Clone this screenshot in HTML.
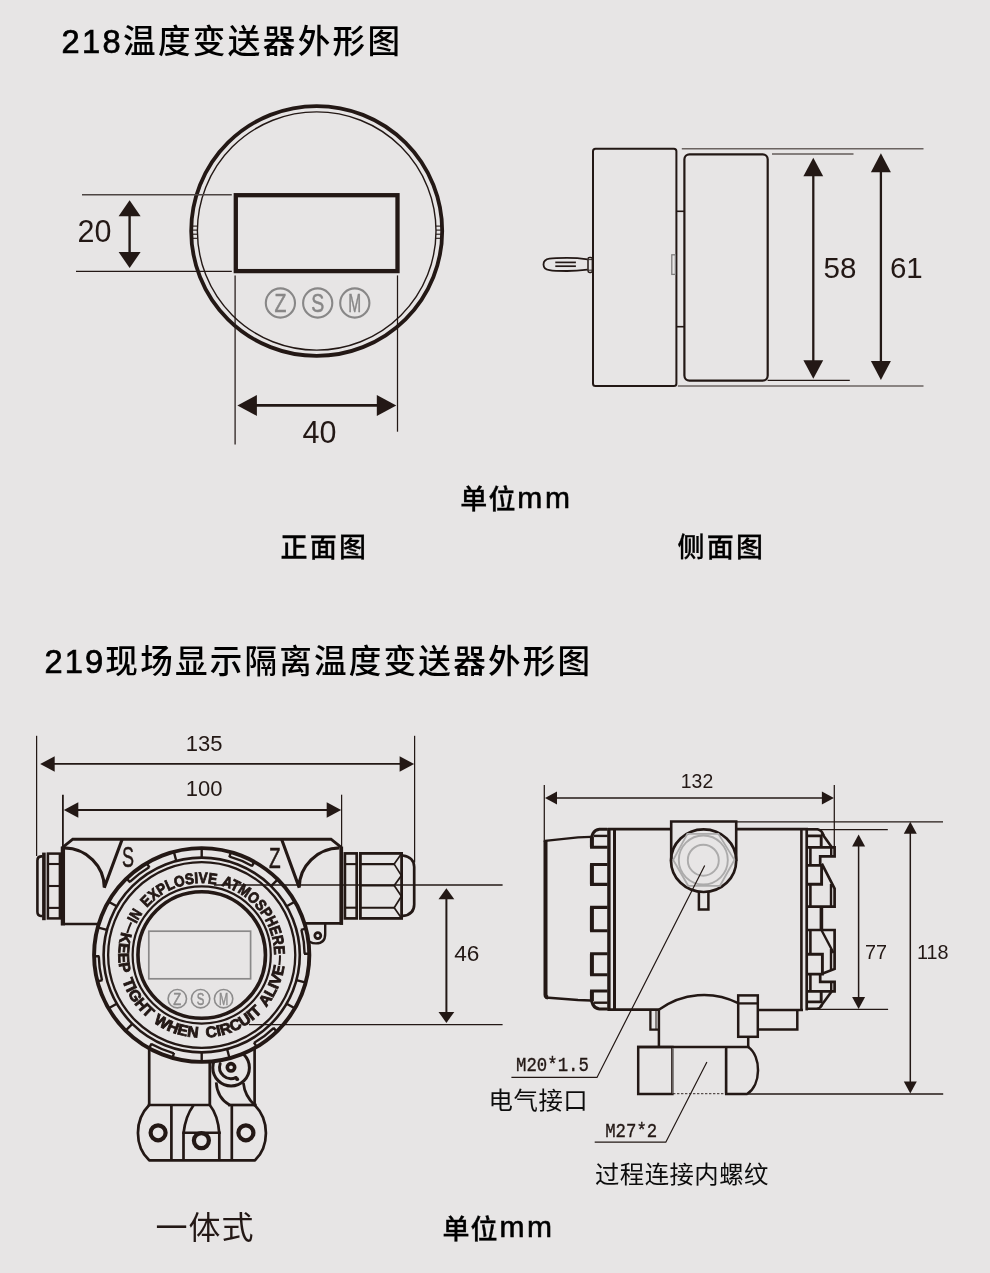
<!DOCTYPE html>
<html lang="zh-CN"><head><meta charset="utf-8"><title>218/219 温度变送器外形图</title>
<style>
html,body{margin:0;padding:0;background:#e7e5e5;}
body{width:990px;height:1273px;overflow:hidden;font-family:"Liberation Sans","Noto Sans CJK SC",sans-serif;}
svg{display:block;will-change:transform;}
svg text{font-family:"Liberation Sans","Noto Sans CJK SC",sans-serif;}
svg text.cjk{font-family:"Noto Sans CJK SC","Liberation Sans",sans-serif;}
svg text.mono{font-family:"Liberation Mono","DejaVu Sans Mono",monospace;}
</style></head><body>
<svg width="990" height="1273" viewBox="0 0 990 1273">
<rect x="0" y="0" width="990" height="1273" fill="#e7e5e5"/>
<text x="61.6" y="53" font-size="32.6" text-anchor="start" font-weight="500" fill="#000" letter-spacing="2.35"><tspan stroke="#000" stroke-width="0.7">218</tspan>温度变送器外形图</text>
<text x="44.4" y="673" font-size="32.6" text-anchor="start" font-weight="500" fill="#000" letter-spacing="2.2"><tspan stroke="#000" stroke-width="0.7">219</tspan>现场显示隔离温度变送器外形图</text>
<ellipse cx="316.7" cy="231.0" rx="125.5" ry="124.9" fill="none" stroke="#231815" stroke-width="3.8"/>
<ellipse cx="316.7" cy="231.0" rx="119.3" ry="119.1" fill="none" stroke="#231815" stroke-width="1.4"/>
<line x1="197.39999999999998" y1="226.1" x2="192.1" y2="226.1" stroke="#231815" stroke-width="1.1" />
<line x1="197.39999999999998" y1="230.1" x2="192.1" y2="230.1" stroke="#231815" stroke-width="1.1" />
<line x1="197.39999999999998" y1="234.2" x2="192.1" y2="234.2" stroke="#231815" stroke-width="1.1" />
<line x1="197.39999999999998" y1="238.3" x2="192.1" y2="238.3" stroke="#231815" stroke-width="1.1" />
<line x1="436.0" y1="226.1" x2="441.29999999999995" y2="226.1" stroke="#231815" stroke-width="1.1" />
<line x1="436.0" y1="230.1" x2="441.29999999999995" y2="230.1" stroke="#231815" stroke-width="1.1" />
<line x1="436.0" y1="234.2" x2="441.29999999999995" y2="234.2" stroke="#231815" stroke-width="1.1" />
<line x1="436.0" y1="238.3" x2="441.29999999999995" y2="238.3" stroke="#231815" stroke-width="1.1" />
<rect x="235.8" y="195.2" width="161.7" height="75.9" fill="none" stroke="#231815" stroke-width="4.3"/>
<circle cx="280.4" cy="303" r="14.6" fill="none" stroke="#888787" stroke-width="2.1"/>
<text transform="translate(280.4,311.8) scale(0.78,1)" font-size="25" text-anchor="middle" fill="#888787" stroke="#888787" stroke-width="0.5">Z</text>
<circle cx="317.7" cy="303" r="14.6" fill="none" stroke="#888787" stroke-width="2.1"/>
<text transform="translate(317.7,311.8) scale(0.78,1)" font-size="25" text-anchor="middle" fill="#888787" stroke="#888787" stroke-width="0.5">S</text>
<circle cx="354.8" cy="303" r="14.6" fill="none" stroke="#888787" stroke-width="2.1"/>
<text transform="translate(354.8,311.8) scale(0.62,1)" font-size="25" text-anchor="middle" fill="#888787" stroke="#888787" stroke-width="0.5">M</text>
<line x1="82" y1="194.8" x2="231.8" y2="194.8" stroke="#4d4543" stroke-width="1.5" />
<line x1="76" y1="271.4" x2="231.8" y2="271.4" stroke="#231815" stroke-width="1.25" />
<line x1="129.6" y1="215.3" x2="129.6" y2="253" stroke="#231815" stroke-width="2.4"/>
<polygon points="129.6,200.3 118.6,216.3 140.6,216.3" fill="#231815"/>
<polygon points="129.6,268 118.6,252 140.6,252" fill="#231815"/>
<text x="94.5" y="242" font-size="30.5" text-anchor="middle" font-weight="400" fill="#231815" >20</text>
<line x1="235.1" y1="275.6" x2="235.1" y2="444.4" stroke="#231815" stroke-width="1.25" />
<line x1="397.5" y1="275.4" x2="397.5" y2="431.7" stroke="#231815" stroke-width="1.25" />
<line x1="255.89999999999998" y1="405.4" x2="377.8" y2="405.4" stroke="#231815" stroke-width="2.8"/>
<polygon points="237.4,405.4 256.9,394.9 256.9,415.9" fill="#231815"/>
<polygon points="396.3,405.4 376.8,394.9 376.8,415.9" fill="#231815"/>
<text x="319.5" y="443" font-size="30.5" text-anchor="middle" font-weight="400" fill="#231815" >40</text>
<text x="460.2" y="509.4" font-size="27" font-weight="500" fill="#000" stroke="#000" stroke-width="0.3" letter-spacing="1.2">单位<tspan font-size="30" letter-spacing="2.7" dx="0.6" dy="-1.6" stroke="#000" stroke-width="0.6">mm</tspan></text>
<text x="280.6" y="557.4" font-size="27" text-anchor="start" font-weight="500" fill="#000" letter-spacing="2.2" stroke="#000" stroke-width="0.3">正面图</text>
<text x="677.6" y="557.4" font-size="27" text-anchor="start" font-weight="500" fill="#000" letter-spacing="2.2" stroke="#000" stroke-width="0.3">侧面图</text>
<rect x="593" y="148.7" width="83.4" height="237.3" rx="2.5" fill="none" stroke="#231815" stroke-width="2"/>
<rect x="684.4" y="154.3" width="83.3" height="226.3" rx="5" fill="none" stroke="#231815" stroke-width="2.2"/>
<line x1="676.4" y1="211.3" x2="684.4" y2="211.3" stroke="#231815" stroke-width="1.6" />
<line x1="676.4" y1="326.7" x2="684.4" y2="326.7" stroke="#231815" stroke-width="1.6" />
<rect x="671.8" y="254.8" width="3.6" height="19.6" fill="none" stroke="#807f7f" stroke-width="1.3"/>
<path d="M587.6,259.3 C578,258 572,257.9 567,257.9 C560,257.9 553,258.1 549.5,258.7 C541.5,260 541.5,268.8 549.5,270.1 C553,270.8 560,271 567,271 C572,271 578,270.8 587.6,269.6" fill="none" stroke="#231815" stroke-width="1.8"/>
<rect x="588" y="257.4" width="4.4" height="15" rx="1.6" fill="none" stroke="#231815" stroke-width="1.5"/>
<line x1="588.4" y1="259.6" x2="592" y2="259.6" stroke="#231815" stroke-width="0.9" />
<line x1="588.4" y1="270.2" x2="592" y2="270.2" stroke="#231815" stroke-width="0.9" />
<line x1="555.3" y1="262.4" x2="575.9" y2="262.4" stroke="#231815" stroke-width="1.7" />
<line x1="555.3" y1="266.2" x2="575.9" y2="266.2" stroke="#231815" stroke-width="1.7" />
<line x1="681.8" y1="148.7" x2="923.5" y2="148.7" stroke="#6b6360" stroke-width="1.5" />
<line x1="677.8" y1="386" x2="923.5" y2="386" stroke="#6b6360" stroke-width="1.5" />
<line x1="772" y1="154" x2="853.5" y2="154" stroke="#231815" stroke-width="1.1" />
<line x1="767.6" y1="380.4" x2="849.8" y2="380.4" stroke="#231815" stroke-width="1.1" />
<line x1="813.3" y1="175.2" x2="813.3" y2="361.2" stroke="#231815" stroke-width="2.3"/>
<polygon points="813.3,157.7 803.4,176.2 823.1999999999999,176.2" fill="#231815"/>
<polygon points="813.3,378.7 803.4,360.2 823.1999999999999,360.2" fill="#231815"/>
<line x1="880.9" y1="171.2" x2="880.9" y2="362" stroke="#231815" stroke-width="2.3"/>
<polygon points="880.9,153.2 870.9,172.2 890.9,172.2" fill="#231815"/>
<polygon points="880.9,380 870.9,361 890.9,361" fill="#231815"/>
<text x="840" y="277.8" font-size="29.5" text-anchor="middle" font-weight="400" fill="#231815" >58</text>
<text x="906.3" y="277.8" font-size="29.5" text-anchor="middle" font-weight="400" fill="#231815" >61</text>
<line x1="36.6" y1="735.8" x2="36.6" y2="856" stroke="#231815" stroke-width="1.25" />
<line x1="414.6" y1="735.8" x2="414.6" y2="862.5" stroke="#231815" stroke-width="1.25" />
<line x1="53.7" y1="763.9" x2="400.6" y2="763.9" stroke="#231815" stroke-width="1.9"/>
<polygon points="40.2,763.9 54.7,756.15 54.7,771.65" fill="#231815"/>
<polygon points="414.1,763.9 399.6,756.15 399.6,771.65" fill="#231815"/>
<text x="204.1" y="751.2" font-size="22" text-anchor="middle" font-weight="400" fill="#231815" >135</text>
<line x1="62.9" y1="794.7" x2="62.9" y2="846" stroke="#231815" stroke-width="1.8" />
<line x1="341.6" y1="794.7" x2="341.6" y2="846" stroke="#231815" stroke-width="1.25" />
<line x1="77.3" y1="810" x2="327.7" y2="810" stroke="#231815" stroke-width="1.9"/>
<polygon points="63.8,810 78.3,802.25 78.3,817.75" fill="#231815"/>
<polygon points="341.2,810 326.7,802.25 326.7,817.75" fill="#231815"/>
<text x="204.1" y="796.3" font-size="22" text-anchor="middle" font-weight="400" fill="#231815" >100</text>
<path d="M62.9,924.2 L62.9,847.2 L72.8,839.2 L331,839.2 L341,847.2 L341,923.6" fill="none" stroke="#231815" stroke-width="2.9" stroke-linejoin="miter"/>
<line x1="62.9" y1="846.6" x2="62.9" y2="925.4" stroke="#231815" stroke-width="4.3" />
<line x1="341.4" y1="846.6" x2="341.4" y2="924.8" stroke="#231815" stroke-width="3.4" />
<line x1="61" y1="924" x2="100" y2="924" stroke="#231815" stroke-width="2.6" />
<line x1="300" y1="923.4" x2="343" y2="923.4" stroke="#231815" stroke-width="2.6" />
<path d="M64.5,847.9 C86.5,848.3 104.3,866 104.3,887.6 L122.2,839.2" fill="none" stroke="#231815" stroke-width="3.1" stroke-linejoin="miter"/>
<path d="M339.4,847.9 C317.4,848.3 299.2,866 299.2,887.6 L281.6,839.2" fill="none" stroke="#231815" stroke-width="3.1" stroke-linejoin="miter"/>
<text transform="translate(128.1,867.2) scale(0.6,1)" font-size="30" text-anchor="middle" fill="#231815" stroke="#231815" stroke-width="0.5">S</text>
<text transform="translate(274.7,867.7) scale(0.635,1)" font-size="30" text-anchor="middle" fill="#231815" stroke="#231815" stroke-width="0.5">Z</text>
<path d="M42.6,856.4 L41,856.4 Q37.4,856.6 37.4,860.5 L37.4,911.8 Q37.4,915.8 41,916 L42.6,916" fill="none" stroke="#231815" stroke-width="2.6"/>
<line x1="43.9" y1="852.6" x2="43.9" y2="920.2" stroke="#231815" stroke-width="3.6" />
<rect x="47.9" y="853.6" width="12" height="64.8" fill="none" stroke="#231815" stroke-width="2.5"/>
<line x1="47.9" y1="864" x2="60" y2="864" stroke="#231815" stroke-width="2.1" />
<line x1="47.9" y1="886" x2="60" y2="886" stroke="#231815" stroke-width="2.1" />
<line x1="47.9" y1="907.9" x2="60" y2="907.9" stroke="#231815" stroke-width="2.1" />
<rect x="344.9" y="853.4" width="11.8" height="65" fill="none" stroke="#231815" stroke-width="2.7"/>
<line x1="344.9" y1="864.1" x2="356.7" y2="864.1" stroke="#231815" stroke-width="2.1" />
<line x1="344.9" y1="907.7" x2="356.7" y2="907.7" stroke="#231815" stroke-width="2.1" />
<rect x="360.4" y="853.4" width="41.2" height="65" fill="none" stroke="#231815" stroke-width="2.8"/>
<line x1="360.4" y1="864.1" x2="394.4" y2="864.1" stroke="#231815" stroke-width="2.1" />
<line x1="360.4" y1="885.5" x2="394.4" y2="885.5" stroke="#231815" stroke-width="2.1" />
<line x1="360.4" y1="907.7" x2="394.4" y2="907.7" stroke="#231815" stroke-width="2.1" />
<path d="M401.4,853.8 L394.2,864.1 L401.4,875.6 L394.2,885.5 L401.4,896.2 L394.2,907.7 L401.4,918" fill="none" stroke="#231815" stroke-width="1.7" stroke-linejoin="miter"/>
<path d="M402.8,855.5 C409.5,856.5 414.2,860 414.2,867 L414.2,904.4 C414.2,911.4 409.5,915 402.8,915.9" fill="none" stroke="#231815" stroke-width="2.7"/>
<line x1="149.2" y1="1040" x2="149.2" y2="1105" stroke="#231815" stroke-width="2.7" />
<line x1="254.6" y1="1040" x2="254.6" y2="1105" stroke="#231815" stroke-width="2.7" />
<path d="M325.2,923.4 L325.2,934 Q325.2,943.4 316,943.4 Q309,943.4 306.5,938" fill="none" stroke="#231815" stroke-width="2.4"/>
<circle cx="317.8" cy="935.6" r="3" fill="none" stroke="#231815" stroke-width="2.7"/>
<circle cx="231.1" cy="1067.7" r="18.3" fill="none" stroke="#231815" stroke-width="3"/>
<g transform="translate(201.7,955.0) scale(1.004,0.9965) translate(-201.7,-955.0)">
<circle cx="201.7" cy="955.0" r="107.3" fill="#e7e5e5" stroke="none"/>
</g>
<line x1="214" y1="885" x2="502.6" y2="885" stroke="#231815" stroke-width="1.3" />
<line x1="249" y1="1024.6" x2="502.6" y2="1024.6" stroke="#231815" stroke-width="1.3" />
<g transform="translate(201.7,955.0) scale(1.004,0.9965) translate(-201.7,-955.0)">
<circle cx="201.7" cy="955.0" r="107.2" fill="none" stroke="#231815" stroke-width="3.9"/>
<circle cx="201.7" cy="955.0" r="97.7" fill="none" stroke="#231815" stroke-width="2.6"/>
<circle cx="201.7" cy="955.0" r="93.2" fill="none" stroke="#231815" stroke-width="2.3"/>
<circle cx="201.7" cy="955.0" r="68.8" fill="none" stroke="#231815" stroke-width="2.2"/>
<circle cx="201.7" cy="955.0" r="63.5" fill="none" stroke="#231815" stroke-width="3.6"/>
<line x1="296.07" y1="980.29" x2="304.57" y2="982.56" stroke="#231815" stroke-width="2.4" />
<line x1="286.31" y1="1003.85" x2="293.93" y2="1008.25" stroke="#231815" stroke-width="2.4" />
<line x1="226.99" y1="1049.37" x2="229.26" y2="1057.87" stroke="#231815" stroke-width="2.4" />
<line x1="201.70" y1="1052.70" x2="201.70" y2="1061.50" stroke="#231815" stroke-width="2.4" />
<line x1="132.62" y1="1024.08" x2="126.39" y2="1030.31" stroke="#231815" stroke-width="2.4" />
<line x1="117.09" y1="1003.85" x2="109.47" y2="1008.25" stroke="#231815" stroke-width="2.4" />
<line x1="107.33" y1="929.71" x2="98.83" y2="927.44" stroke="#231815" stroke-width="2.4" />
<line x1="117.09" y1="906.15" x2="109.47" y2="901.75" stroke="#231815" stroke-width="2.4" />
<line x1="176.41" y1="860.63" x2="174.14" y2="852.13" stroke="#231815" stroke-width="2.4" />
<line x1="201.70" y1="857.30" x2="201.70" y2="848.50" stroke="#231815" stroke-width="2.4" />
<line x1="270.78" y1="885.92" x2="277.01" y2="879.69" stroke="#231815" stroke-width="2.4" />
<line x1="286.31" y1="906.15" x2="293.93" y2="901.75" stroke="#231815" stroke-width="2.4" />
<path d="M304.42,928.82 L300.44,929.83 M301.02,929.68 A102.5,102.5 0 0 1 304.19,953.75 M303.59,953.76 L307.69,953.70" fill="none" stroke="#231815" stroke-width="2.4"/>
<path d="M275.73,1030.86 L272.87,1027.93 M273.29,1028.36 A102.5,102.5 0 0 1 254.03,1043.13 M253.72,1042.62 L255.82,1046.14" fill="none" stroke="#231815" stroke-width="2.4"/>
<path d="M173.02,1057.05 L174.13,1053.10 M173.96,1053.68 A102.5,102.5 0 0 1 151.54,1044.39 M151.83,1043.86 L149.83,1047.44" fill="none" stroke="#231815" stroke-width="2.4"/>
<path d="M98.98,981.18 L102.96,980.17 M102.38,980.32 A102.5,102.5 0 0 1 99.21,956.25 M99.81,956.24 L95.71,956.30" fill="none" stroke="#231815" stroke-width="2.4"/>
<path d="M127.67,879.14 L130.53,882.07 M130.11,881.64 A102.5,102.5 0 0 1 149.37,866.87 M149.68,867.38 L147.58,863.86" fill="none" stroke="#231815" stroke-width="2.4"/>
<path d="M230.38,852.95 L229.27,856.90 M229.44,856.32 A102.5,102.5 0 0 1 251.86,865.61 M251.57,866.14 L253.57,862.56" fill="none" stroke="#231815" stroke-width="2.4"/>
<path id="rt0" d="M136.59,923.80 A72.2,72.2 0 0 1 146.15,908.88" fill="none"/>
<path id="rt1" d="M147.21,907.63 A72.2,72.2 0 0 1 221.24,885.49" fill="none"/>
<path id="rt2" d="M221.12,885.46 A72.2,72.2 0 0 1 273.75,959.66" fill="none"/>
<text font-size="15.3" font-weight="700" fill="#231815" stroke="#231815" stroke-width="0.85"><textPath href="#rt0" textLength="12.7" lengthAdjust="spacingAndGlyphs">IN</textPath> <textPath href="#rt1" textLength="76.5" lengthAdjust="spacingAndGlyphs">EXPLOSIVE</textPath> <textPath href="#rt2" textLength="93.4" lengthAdjust="spacingAndGlyphs">ATMOSPHERE</textPath></text>
<path id="rb0" d="M122.00,931.84 A83.0,83.0 0 0 0 122.20,978.85" fill="none"/>
<path id="rb1" d="M122.76,980.65 A83.0,83.0 0 0 0 153.03,1022.23" fill="none"/>
<path id="rb2" d="M153.50,1022.57 A83.0,83.0 0 0 0 203.87,1037.97" fill="none"/>
<path id="rb3" d="M206.33,1037.87 A83.0,83.0 0 0 0 265.84,1007.68" fill="none"/>
<path id="rb4" d="M265.93,1007.57 A83.0,83.0 0 0 0 284.52,960.50" fill="none"/>
<text font-size="15.3" font-weight="700" fill="#231815" stroke="#231815" stroke-width="0.85"><textPath href="#rb0" textLength="41.9" lengthAdjust="spacingAndGlyphs">KEEP</textPath> <textPath href="#rb1" textLength="46.5" lengthAdjust="spacingAndGlyphs">TIGHT</textPath> <textPath href="#rb2" textLength="47.8" lengthAdjust="spacingAndGlyphs">WHEN</textPath> <textPath href="#rb3" textLength="62.9" lengthAdjust="spacingAndGlyphs">CIRCUIT</textPath> <textPath href="#rb4" textLength="45.6" lengthAdjust="spacingAndGlyphs">ALIVE</textPath></text>
<path d="M127.53,932.89 A77.4,77.4 0 0 1 131.55,922.29" fill="none" stroke="#231815" stroke-width="2"/>
<path d="M279.70,955.27 A78,78 0 0 1 279.05,965.05" fill="none" stroke="#231815" stroke-width="2"/>
</g>
<rect x="148.8" y="931.2" width="101.8" height="47.6" fill="none" stroke="#8a8989" stroke-width="1.7"/>
<circle cx="177.3" cy="998.7" r="9.2" fill="none" stroke="#8d8c8c" stroke-width="1.6"/>
<text transform="translate(177.3,1004.9) scale(0.75,1)" font-size="17.4" text-anchor="middle" fill="#8d8c8c" stroke="#8d8c8c" stroke-width="0.5">Z</text>
<circle cx="200.6" cy="998.7" r="9.2" fill="none" stroke="#8d8c8c" stroke-width="1.6"/>
<text transform="translate(200.6,1004.9) scale(0.66,1)" font-size="17.4" text-anchor="middle" fill="#8d8c8c" stroke="#8d8c8c" stroke-width="0.5">S</text>
<circle cx="223.6" cy="998.7" r="9.2" fill="none" stroke="#8d8c8c" stroke-width="1.6"/>
<text transform="translate(223.6,1004.9) scale(0.64,1)" font-size="17.4" text-anchor="middle" fill="#8d8c8c" stroke="#8d8c8c" stroke-width="0.5">M</text>
<line x1="147.8" y1="1105" x2="211" y2="1105" stroke="#231815" stroke-width="2.7" />
<line x1="228" y1="1105" x2="256.7" y2="1105" stroke="#231815" stroke-width="2.7" />
<line x1="209.8" y1="1060" x2="209.8" y2="1105" stroke="#231815" stroke-width="2.8" />
<path d="M149.2,1105 C134.2,1120 134.2,1146 149.2,1160.3 L255,1160.3 C269.6,1146 269.6,1120 254.6,1105" fill="none" stroke="#231815" stroke-width="2.7" stroke-linejoin="round"/>
<line x1="171.4" y1="1105" x2="171.4" y2="1160.3" stroke="#231815" stroke-width="2.7" />
<line x1="231.8" y1="1105" x2="231.8" y2="1160.3" stroke="#231815" stroke-width="2.7" />
<line x1="183.5" y1="1132.8" x2="183.5" y2="1160.3" stroke="#231815" stroke-width="2.7" />
<line x1="219.3" y1="1132.8" x2="219.3" y2="1160.3" stroke="#231815" stroke-width="2.7" />
<line x1="182.4" y1="1132.8" x2="220.8" y2="1132.8" stroke="#231815" stroke-width="2.4" />
<path d="M183.5,1133.4 C184.8,1121 188.5,1112 193.7,1105" fill="none" stroke="#231815" stroke-width="2.7"/>
<path d="M219.3,1133.4 C218.4,1121 215,1111.5 209.8,1105" fill="none" stroke="#231815" stroke-width="2.7"/>
<circle cx="158.1" cy="1132.8" r="7.5" fill="none" stroke="#231815" stroke-width="4.2"/>
<circle cx="201.4" cy="1140.6" r="7.5" fill="none" stroke="#231815" stroke-width="4.2"/>
<circle cx="245.9" cy="1132.8" r="7.5" fill="none" stroke="#231815" stroke-width="4.2"/>
<circle cx="231" cy="1067.3" r="3.7" fill="none" stroke="#231815" stroke-width="3.6"/>
<path d="M220.2,1063.6 A11.4,11.4 0 0 0 236.2,1077.4" fill="none" stroke="#231815" stroke-width="2.9" stroke-linecap="round"/>
<circle cx="237.2" cy="1079.2" r="1.9" fill="#231815"/>
<path d="M216.2,1082.4 C217,1094 222,1101 230,1105.2" fill="none" stroke="#231815" stroke-width="2.7"/>
<path d="M243.4,1083 C244.5,1094 249,1100 255,1105.4" fill="none" stroke="#231815" stroke-width="2.7"/>
<line x1="446.4" y1="898.3" x2="446.4" y2="1012.9" stroke="#231815" stroke-width="2"/>
<polygon points="446.4,888.3 438.5,899.3 454.29999999999995,899.3" fill="#231815"/>
<polygon points="446.4,1022.9 438.5,1011.9 454.29999999999995,1011.9" fill="#231815"/>
<text x="466.8" y="960.6" font-size="22.6" text-anchor="middle" font-weight="400" fill="#231815" >46</text>
<text x="155.6" y="1239.4" font-size="32" text-anchor="start" font-weight="400" fill="#231815" letter-spacing="0.9">一体式</text>
<text x="442.4" y="1238.6" font-size="27" font-weight="500" fill="#000" stroke="#000" stroke-width="0.3" letter-spacing="1.2">单位<tspan font-size="30" letter-spacing="2.7" dx="0.6" dy="-1.6" stroke="#000" stroke-width="0.6">mm</tspan></text>
<line x1="544.3" y1="785" x2="544.3" y2="842" stroke="#231815" stroke-width="1.25" />
<line x1="834.3" y1="785" x2="834.3" y2="847" stroke="#231815" stroke-width="1.25" />
<line x1="556" y1="798" x2="822.9" y2="798" stroke="#231815" stroke-width="1.7"/>
<polygon points="545,798 557,791.5 557,804.5" fill="#231815"/>
<polygon points="833.9,798 821.9,791.5 821.9,804.5" fill="#231815"/>
<text x="697" y="788" font-size="19.4" text-anchor="middle" font-weight="400" fill="#231815" >132</text>
<path d="M590.8,836.9 L578,837.4 L545,840.8" fill="none" stroke="#231815" stroke-width="2.3" />
<path d="M545.6,997.4 L578,1000 L590.8,1000.6" fill="none" stroke="#231815" stroke-width="2.5" />
<path d="M545.5,840.4 L545.5,994.6 Q545.6,997.2 548,997.5" fill="none" stroke="#231815" stroke-width="4" stroke-linejoin="round"/>
<path d="M607.6,829.2 L599.4,829.2 Q595,829.6 593,833.4 L591.6,837 L591.6,847.3 L607.6,847.3" fill="none" stroke="#231815" stroke-width="3.1" />
<line x1="594" y1="835.9" x2="607.6" y2="835.9" stroke="#231815" stroke-width="2.4" />
<path d="M607.6,864.5 L591.6,864.5 L591.6,884.4 L607.6,884.4" fill="none" stroke="#231815" stroke-width="3.1" />
<path d="M607.6,907.4 L591.6,907.4 L591.6,930.8 L607.6,930.8" fill="none" stroke="#231815" stroke-width="3.1" />
<path d="M607.6,953.8 L591.6,953.8 L591.6,974.8 L607.6,974.8" fill="none" stroke="#231815" stroke-width="3.1" />
<path d="M607.6,991 L591.6,991 L591.6,1001 L593,1004.8 Q595,1008.6 599.4,1009 L607.6,1009" fill="none" stroke="#231815" stroke-width="3.1" />
<line x1="594" y1="1002.7" x2="607.6" y2="1002.7" stroke="#231815" stroke-width="2.4" />
<line x1="591.9" y1="836.4" x2="591.9" y2="847.3" stroke="#231815" stroke-width="4" />
<line x1="591.9" y1="864.5" x2="591.9" y2="884.4" stroke="#231815" stroke-width="4" />
<line x1="591.9" y1="907.4" x2="591.9" y2="930.8" stroke="#231815" stroke-width="4" />
<line x1="591.9" y1="953.8" x2="591.9" y2="974.8" stroke="#231815" stroke-width="4" />
<line x1="591.9" y1="991" x2="591.9" y2="1001" stroke="#231815" stroke-width="4" />
<line x1="608.9" y1="828" x2="608.9" y2="1010.6" stroke="#231815" stroke-width="3.4" />
<line x1="614.5" y1="828" x2="614.5" y2="1010.6" stroke="#231815" stroke-width="3" />
<line x1="608" y1="829.2" x2="670.3" y2="829.2" stroke="#231815" stroke-width="2.7" />
<line x1="736.5" y1="829.2" x2="808" y2="829.2" stroke="#231815" stroke-width="2.7" />
<line x1="607.6" y1="1009.6" x2="659.6" y2="1009.6" stroke="#231815" stroke-width="2.7" />
<path d="M671.2,861 L671.2,821.5 L736.2,821.5 L736.2,861" fill="none" stroke="#231815" stroke-width="2.6" />
<ellipse cx="703.6" cy="860.7" rx="32.6" ry="31.3" fill="none" stroke="#231815" stroke-width="2.7"/>
<path d="M673.2,859.9 L687.4,833.9 L718.4,833.9 L734.4,859.9 L720,885.8 L688.2,885.8 Z" fill="none" stroke="#acabab" stroke-width="1.8" />
<circle cx="703.3" cy="860" r="24.5" fill="none" stroke="#acabab" stroke-width="1.9"/>
<circle cx="703.3" cy="860.2" r="15.5" fill="none" stroke="#acabab" stroke-width="1.9"/>
<path d="M698.9,892 L698.9,909.6 L708.4,909.6 L708.4,892" fill="none" stroke="#231815" stroke-width="2.5" />
<line x1="801.4" y1="828.6" x2="801.4" y2="1011" stroke="#231815" stroke-width="2.6" />
<line x1="806.7" y1="828.6" x2="806.7" y2="1010.4" stroke="#231815" stroke-width="2.7" />
<path d="M806.6,829.2 L817.6,829.2 Q822,830.2 823.6,835.4" fill="none" stroke="#231815" stroke-width="2.6" />
<path d="M821.6,833 L831.6,847.1" fill="none" stroke="#231815" stroke-width="2.6" />
<path d="M808,835.9 L821.2,835.9 L821.2,846.6" fill="none" stroke="#231815" stroke-width="2.9" />
<path d="M808,847.3 L834.6,847.3 L834.6,856.3 L820.2,856.3 L820.2,865.3 L808,865.3" fill="none" stroke="#231815" stroke-width="2.6999999999999997" />
<path d="M831.2,847.1 L831.2,856.3" fill="none" stroke="#231815" stroke-width="2.4" />
<path d="M808,884.2 L821.6,884.2 L821.6,864" fill="none" stroke="#231815" stroke-width="2.9" />
<path d="M821.8,863.6 L834.6,888.6 L834.6,906.7 L808,906.7" fill="none" stroke="#231815" stroke-width="2.6999999999999997" />
<path d="M831,884 L831,906.7" fill="none" stroke="#231815" stroke-width="2.4" />
<line x1="821.4" y1="906.7" x2="821.4" y2="930" stroke="#231815" stroke-width="3.6" />
<path d="M808,930 L834.6,930 L834.6,968.9 L822.7,973.4" fill="none" stroke="#231815" stroke-width="2.6999999999999997" />
<path d="M821.8,930.8 L833.6,953" fill="none" stroke="#231815" stroke-width="2.4" />
<path d="M831,949 L831,970" fill="none" stroke="#231815" stroke-width="2.4" />
<path d="M808,954.2 L822.4,954.2 L822.4,974.1 L808,974.1" fill="none" stroke="#231815" stroke-width="2.9" />
<path d="M820.2,974.1 L820.2,981.9 L834.6,981.9 L834.6,991.4 L808,991.4" fill="none" stroke="#231815" stroke-width="2.6999999999999997" />
<path d="M831.2,981.9 L831.2,991.4" fill="none" stroke="#231815" stroke-width="2.4" />
<path d="M831.6,991.4 L820.4,1006.8" fill="none" stroke="#231815" stroke-width="2.6" />
<path d="M808,1001.9 L821.2,1001.9 L821.2,992" fill="none" stroke="#231815" stroke-width="2.9" />
<path d="M806.6,1008.8 L816.6,1008.8 Q820.2,1008.4 822,1005" fill="none" stroke="#231815" stroke-width="2.6" />
<line x1="810.4" y1="847.3" x2="810.4" y2="865.3" stroke="#231815" stroke-width="2.6" />
<line x1="810.4" y1="884.2" x2="810.4" y2="906.7" stroke="#231815" stroke-width="2.6" />
<line x1="810.4" y1="930" x2="810.4" y2="954.2" stroke="#231815" stroke-width="2.6" />
<line x1="810.4" y1="974.1" x2="810.4" y2="991.4" stroke="#231815" stroke-width="2.6" />
<path d="M659.2,1029.6 L650.4,1029.6 L650.4,1009.7" fill="none" stroke="#231815" stroke-width="2.3" />
<line x1="656" y1="1010" x2="656" y2="1029" stroke="#231815" stroke-width="1" />
<line x1="658.9" y1="1009.7" x2="658.9" y2="1047" stroke="#231815" stroke-width="2.5" />
<path d="M659.2,1009.6 A75.8,75.8 0 0 1 738.2,1003.2" fill="none" stroke="#231815" stroke-width="2.5" />
<rect x="738.2" y="995.4" width="19.6" height="41.4" fill="none" stroke="#231815" stroke-width="2.5"/>
<line x1="738.2" y1="1003.4" x2="757.8" y2="1003.4" stroke="#231815" stroke-width="2.3" />
<path d="M757.8,1009.9 L803,1009.9" fill="none" stroke="#231815" stroke-width="2.5" />
<path d="M757.8,1029.6 L797.3,1029.6 L797.3,1009.9" fill="none" stroke="#231815" stroke-width="2.5" />
<line x1="748.2" y1="1036.8" x2="748.2" y2="1047.4" stroke="#231815" stroke-width="2.5" />
<line x1="637" y1="1047" x2="749.3" y2="1047" stroke="#231815" stroke-width="2.5" />
<rect x="638.2" y="1047" width="34.2" height="47" fill="none" stroke="#231815" stroke-width="2.5"/>
<line x1="673" y1="1048" x2="673" y2="1093.5" stroke="#aaa9a9" stroke-width="1" />
<line x1="725" y1="1048" x2="725" y2="1093.5" stroke="#aaa9a9" stroke-width="1" />
<line x1="673" y1="1093.7" x2="725" y2="1093.7" stroke="#231815" stroke-width="0.9" stroke-dasharray="2.4 1.6"/>
<path d="M726.2,1047 L726.2,1094 L747,1094 C761.5,1085 761.5,1056 748.2,1047" fill="none" stroke="#231815" stroke-width="2.5" />
<path d="M704.7,865.5 L597,1077.4 L511.4,1077.4" fill="none" stroke="#231815" stroke-width="1.2" />
<path d="M706.9,1062 L665.8,1142.2 L594.7,1142.2" fill="none" stroke="#231815" stroke-width="1.2" />
<text class="mono" transform="translate(516,1070.5) scale(0.868,1)" font-size="20" fill="#231815" stroke="#231815" stroke-width="0.35">M20*1.5</text>
<text class="mono" transform="translate(605.2,1136.6) scale(0.868,1)" font-size="20" fill="#231815" stroke="#231815" stroke-width="0.35">M27*2</text>
<text x="488.6" y="1109" font-size="24.4" text-anchor="start" font-weight="400" fill="#0d0d0d" letter-spacing="0.5">电气接口</text>
<text x="595" y="1182.6" font-size="24.4" text-anchor="start" font-weight="400" fill="#0d0d0d" letter-spacing="0.45">过程连接内螺纹</text>
<line x1="737" y1="821.8" x2="943" y2="821.8" stroke="#231815" stroke-width="1.3" />
<line x1="806.8" y1="829.6" x2="887.8" y2="829.6" stroke="#231815" stroke-width="1.3" />
<line x1="806" y1="1009.3" x2="888.1" y2="1009.3" stroke="#231815" stroke-width="1.3" />
<line x1="748" y1="1094" x2="943.2" y2="1094" stroke="#231815" stroke-width="1.3" />
<line x1="858.6" y1="845.4" x2="858.6" y2="998.1" stroke="#231815" stroke-width="1.5"/>
<polygon points="858.6,834.4 852.1,846.4 865.1,846.4" fill="#231815"/>
<polygon points="858.6,1009.1 852.1,997.1 865.1,997.1" fill="#231815"/>
<line x1="910.3" y1="832.8" x2="910.3" y2="1082.6" stroke="#231815" stroke-width="1.5"/>
<polygon points="910.3,821.8 903.8,833.8 916.8,833.8" fill="#231815"/>
<polygon points="910.3,1093.6 903.8,1081.6 916.8,1081.6" fill="#231815"/>
<text x="876" y="959" font-size="19.8" text-anchor="middle" font-weight="400" fill="#231815" >77</text>
<text x="932.8" y="959" font-size="19.8" text-anchor="middle" font-weight="400" fill="#231815" >118</text>
</svg>
</body></html>
